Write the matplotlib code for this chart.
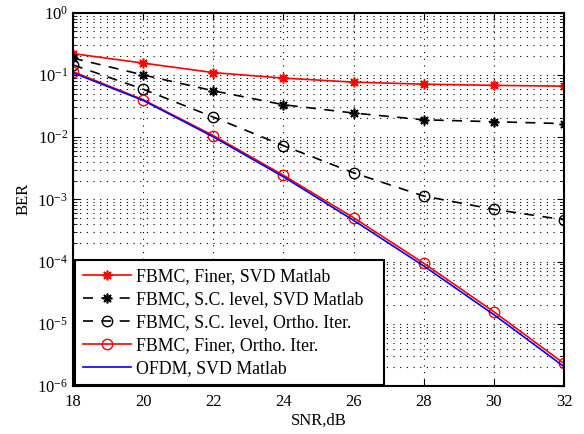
import numpy as np
import matplotlib
matplotlib.use('Agg')
import matplotlib.pyplot as plt
from matplotlib.ticker import LogLocator, NullFormatter, FixedLocator

plt.rcParams['font.family'] = ['Liberation Serif', 'DejaVu Serif']
plt.rcParams['mathtext.fontset'] = 'stix'

snr = [18, 20, 22, 24, 26, 28, 30, 32]
fbmc_finer_svd = [0.22, 0.155, 0.109, 0.089, 0.0766, 0.071, 0.068, 0.066]
fbmc_sc_svd = [0.186, 0.10, 0.0556, 0.0332, 0.0244, 0.019, 0.0177, 0.0165]
fbmc_sc_ortho = [0.145, 0.059, 0.021, 0.0073, 0.00267, 0.00113, 0.00069, 0.00047]
fbmc_finer_ortho = [0.113, 0.0399, 0.0106, 0.00244, 0.000507, 9.4e-5, 1.56e-5, 2.3e-6]
ofdm_svd = [0.108, 0.039, 0.0101, 0.0023, 0.00046, 8.5e-5, 1.4e-5, 2.05e-6]

labels = ['FBMC, Finer, SVD Matlab', 'FBMC, S.C. level, SVD Matlab',
          'FBMC, S.C. level, Ortho. Iter.', 'FBMC, Finer, Ortho. Iter.',
          'OFDM, SVD Matlab']

fig = plt.figure(figsize=(5.84, 4.34), dpi=100)
ax = fig.add_axes([0.125, 0.1106, 0.8408, 0.8601])

ast = (8, 2, 0)
ax.semilogy(snr, fbmc_finer_svd, color='red', lw=1.2, marker=ast, ms=7, mew=1.2, label=labels[0])
ax.semilogy(snr, fbmc_sc_svd, color='black', lw=1.2, ls=(0, (6, 5)), marker=ast, ms=7, mew=1.2, label=labels[1])
ax.semilogy(snr, fbmc_sc_ortho, color='black', lw=1.2, ls=(0, (6, 5)), marker='o', ms=7.5, mfc='none', mew=1.0, label=labels[2])
ax.semilogy(snr, fbmc_finer_ortho, color='red', lw=1.2, marker='o', ms=7.5, mfc='none', mew=1.0, label=labels[3])
ax.semilogy(snr, ofdm_svd, color='blue', lw=1.2, label=labels[4])

ax.set_xlim(18, 32)
ax.set_ylim(1e-6, 1)
ax.xaxis.set_major_locator(FixedLocator(snr))
ax.yaxis.set_major_locator(LogLocator(base=10, numticks=10))
ax.yaxis.set_minor_locator(LogLocator(base=10, subs=np.arange(2, 10), numticks=20))
ax.yaxis.set_minor_formatter(NullFormatter())

ax.grid(True, which='major', ls=(0, (1, 5)), color='black', lw=0.8)
ax.grid(True, which='minor', axis='y', ls=(0, (1, 5)), color='black', lw=0.8)
ax.tick_params(which='both', direction='in', top=True, right=True, labelsize=12)
ax.tick_params(which='major', length=5)
ax.tick_params(which='minor', length=3)
ax.tick_params(axis='x', pad=6)
for s in ax.spines.values():
    s.set_linewidth(1.5)

ax.set_xlabel('SNR,dB', fontsize=12, labelpad=2)
ax.set_ylabel('BER', fontsize=12, labelpad=4)

leg = ax.legend(loc='lower left', bbox_to_anchor=(0.004, 0.003, 0.63, 0.3), mode='expand',
                fontsize=12.8, handlelength=2.7, labelspacing=0.33,
                borderaxespad=0.0, fancybox=False, edgecolor='black', framealpha=1,
                handletextpad=0.3, borderpad=0.45)
leg.get_frame().set_linewidth(1.5)

fig.savefig('out.png', dpi=100)
